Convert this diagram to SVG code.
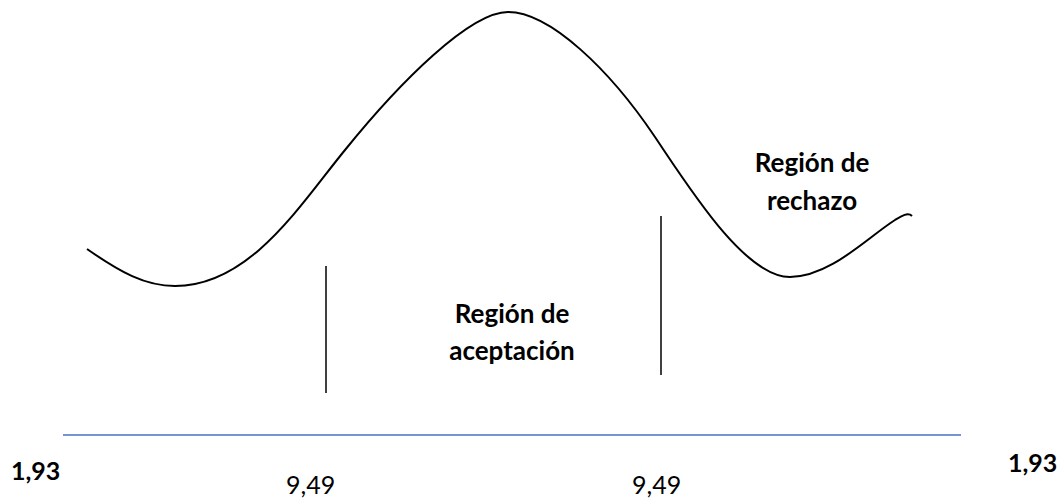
<svg xmlns="http://www.w3.org/2000/svg" width="1062" height="499" viewBox="0 0 1062 499">
<style>
.t{font-family:Lato,"Open Sans","Liberation Sans",sans-serif;font-size:25px;fill:#000}
.b{font-weight:bold}
.c{text-anchor:middle;font-size:26px}
.ln{stroke:#000;stroke-width:1.5;fill:none}
</style>
<rect width="1062" height="499" fill="#fff"/>
<g id="curve">
<path d="M87,249 C120,272 145,286 175,286 C250,286 300,205 345,150 C400,82 470,12 508,12 C550,12 610,70 655,137 C690,189 745,277 790,277 C830,277 868,237 895,220 C902,215.7 908,212 912,216" fill="none" stroke="#000" stroke-width="2"/>
</g>
<g id="connectors">
<line class="ln" x1="326" y1="266" x2="326" y2="393"/>
<line class="ln" x1="661" y1="216" x2="661" y2="375"/>
<line x1="63" y1="435" x2="961" y2="435" stroke="#4472C4" stroke-width="1.5"/>
</g>
<g id="acceptance-label">
<text class="t b c" x="512" y="323">Región de</text>
<text class="t b c" x="512" y="360">aceptación</text>
</g>
<g id="rejection-label">
<text class="t b c" x="812" y="172">Región de</text>
<text class="t b c" x="812" y="210">rechazo</text>
</g>
<g id="axis-labels">
<text class="t b" x="11" y="480">1,93</text>
<text class="t" x="286" y="494">9,49</text>
<text class="t" x="632" y="494">9,49</text>
<text class="t b" x="1008" y="472">1,93</text>
</g>
</svg>
